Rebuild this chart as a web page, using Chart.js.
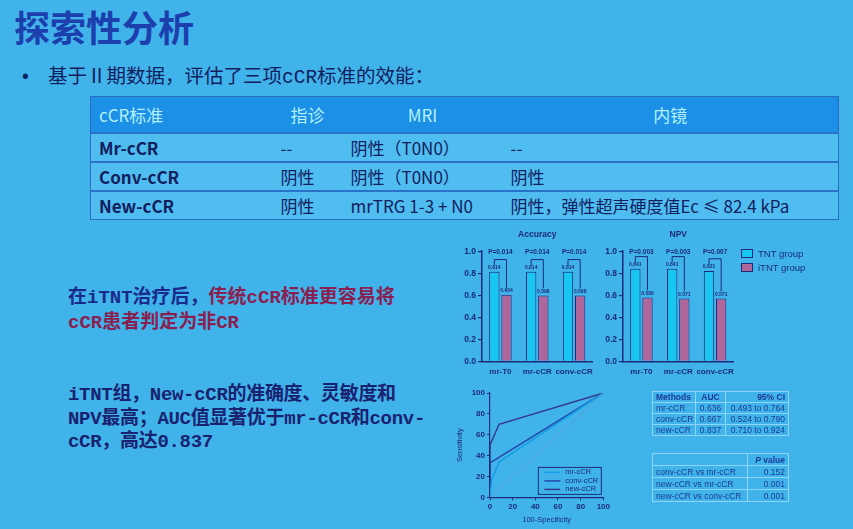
<!DOCTYPE html>
<html lang="zh">
<head>
<meta charset="utf-8">
<script src="https://cdn.jsdelivr.net/npm/chart.js@4.4.1/dist/chart.umd.min.js"></script>
<style>
  html, body { margin: 0; padding: 0; }
  body { width: 853px; height: 529px; overflow: hidden; position: relative;
         background: #40b3ea; font-family: "Noto Sans CJK SC", sans-serif; color: #13205e; }
  .abs { position: absolute; }
  #title { left: 14px; top: 4px; font-size: 36px; font-weight: bold; color: #1d3fae; line-height: 44px; }
  #bullet { left: 22px; top: 63px; font-size: 19.5px; line-height: 26px; font-family: "Liberation Mono", "Noto Sans CJK SC", monospace; }
  #bullet .dot { display: inline-block; width: 26px; font-family: "Liberation Sans"; }
  #crit { left: 90px; top: 96px; width: 748px; border-collapse: collapse; font-size: 17px; table-layout: fixed;
          border: 1.5px solid #2a6cc0; }
  #crit th { background: #1c8fe6; color: #b4f2ff; font-weight: normal; height: 35px; padding: 0; }
  #crit th.l { text-align: left; padding-left: 8px; }
  #crit td { height: 27px; border-top: 2px solid #2a72c8; background: #4fbdf0; padding: 0 0 0 8px; white-space: nowrap; }
  #crit td.b { font-weight: bold; }
  .note { left: 68px; font-size: 19px; font-weight: bold; font-family: "Liberation Mono", "Noto Sans CJK SC", monospace; }
  #note1 { top: 286px; line-height: 25px; color: #1a2a8a; }
  #note1 .red { color: #8a2050; }
  #note2 { top: 384px; line-height: 23.5px; color: #1a2270; letter-spacing: -0.3px; }
  .box { position: absolute; }
  #legend { left: 741px; top: 247px; font-family: "Liberation Sans", sans-serif; font-size: 9.5px; color: #1b2b78; line-height: 14px; }
  #legend span.sw { display: inline-block; width: 10px; height: 7px; border: 1px solid #1b2b78; margin-right: 5px; vertical-align: -1px; }
  .stat { position: absolute; border-collapse: collapse; font-family: "Liberation Sans", sans-serif; font-size: 8.5px;
          color: #1c3a96; table-layout: fixed; border: 1.2px solid #2c5cb0; }
  .stat th, .stat td { border: 1px solid #8fd6f6; padding: 0 3px; white-space: nowrap; }
  .stat th { font-weight: bold; }
  .stat .l { text-align: left; }
  .stat .c { text-align: center; }
  .stat .r { text-align: right; }
  #auc { left: 652px; top: 391px; width: 136px; }
  #auc th, #auc td { height: 10px; }
  #pval { left: 652px; top: 453px; width: 136px; }
  #pval th, #pval td { height: 11px; }
</style>
</head>
<body>
<div id="title" class="abs">探索性分析</div>
<div id="bullet" class="abs"><span class="dot">•</span>基于Ⅱ期数据，评估了三项cCR标准的效能：</div>

<table id="crit" class="abs">
  <colgroup><col style="width:182px"><col style="width:70px"><col style="width:160px"><col style="width:336px"></colgroup>
  <tr><th class="l">cCR标准</th><th>指诊</th><th>MRI</th><th>内镜</th></tr>
  <tr><td class="b">Mr-cCR</td><td>--</td><td>阴性（T0N0）</td><td>--</td></tr>
  <tr><td class="b">Conv-cCR</td><td>阴性</td><td>阴性（T0N0）</td><td>阴性</td></tr>
  <tr><td class="b">New-cCR</td><td>阴性</td><td>mrTRG 1-3 + N0</td><td>阴性，弹性超声硬度值Ec ≤ 82.4 kPa</td></tr>
</table>

<div id="note1" class="abs note">在iTNT治疗后，<span class="red">传统cCR标准更容易将<br>cCR患者判定为非CR</span></div>
<div id="note2" class="abs note">iTNT组，New-cCR的准确度、灵敏度和<br>NPV最高；AUC值显著优于mr-cCR和conv-<br>cCR，高达0.837</div>

<div class="box" style="left:450px;top:225px;"><canvas id="accChart" width="150" height="160"></canvas></div>
<div class="box" style="left:591px;top:225px;"><canvas id="npvChart" width="150" height="160"></canvas></div>
<div id="legend" class="abs"></div>
<div class="box" style="left:440px;top:385px;"><canvas id="rocChart" width="172" height="140"></canvas></div>

<table id="auc" class="stat">
  <colgroup><col style="width:43px"><col style="width:30px"><col style="width:63px"></colgroup>
  <tr><th class="l">Methods</th><th class="c">AUC</th><th class="r">95% CI</th></tr>
  <tr><td class="l">mr-cCR</td><td class="c">0.636</td><td class="r">0.493 to 0.764</td></tr>
  <tr><td class="l">conv-cCR</td><td class="c">0.667</td><td class="r">0.524 to 0.790</td></tr>
  <tr><td class="l">new-cCR</td><td class="c">0.837</td><td class="r">0.710 to 0.924</td></tr>
</table>

<table id="pval" class="stat">
  <colgroup><col style="width:95px"><col style="width:41px"></colgroup>
  <tr><th></th><th class="r"><i>P</i> value</th></tr>
  <tr><td class="l">conv-cCR vs mr-cCR</td><td class="r">0.152</td></tr>
  <tr><td class="l">new-cCR vs mr-cCR</td><td class="r">0.001</td></tr>
  <tr><td class="l">new-cCR vs conv-cCR</td><td class="r">0.001</td></tr>
</table>

<script>
// bar charts
const groups = ['TNT group', 'iTNT group'];
const groupColors = ['#19c6f2', '#b1669b'];
const methods = ['mr-T0', 'mr-cCR', 'conv-cCR'];
const accuracyTnt = [0.814, 0.814, 0.814];
const accuracyItnt = [0.604, 0.598, 0.598];
const accuracyP = ['P=0.014', 'P=0.014', 'P=0.014'];
const npvTnt = [0.841, 0.841, 0.821];
const npvItnt = [0.580, 0.571, 0.571];
const npvP = ['P=0.003', 'P=0.003', 'P=0.007'];

// ROC curves (100-Specificity, Sensitivity)
const rocNames = ['mr-cCR', 'conv-cCR', 'new-cCR'];
const mrRocX = [0, 1.5, 8, 100];
const mrRocY = [0, 17, 34, 100];
const convRocX = [0, 0, 100];
const convRocY = [0, 33, 100];
const newRocX = [0, 0, 8, 100];
const newRocY = [0, 50, 70, 100];
const refX = [0, 100];
const refY = [0, 100];

const ink = '#1b2b78';
const font = 'Liberation Sans';
Chart.defaults.font.family = font;
Chart.defaults.color = ink;

// shared legend for the two bar charts
document.getElementById('legend').innerHTML = groups
    .map((g, i) => `<div><span class="sw" style="background:${groupColors[i]}"></span>${g}</div>`)
    .join('');

function barChart(id, title, tnt, itnt, pLabels) {
    const brackets = {
        id: 'brackets',
        afterDatasetsDraw(chart) {
            const { ctx, scales: { y } } = chart;
            const a = chart.getDatasetMeta(0).data;
            const b = chart.getDatasetMeta(1).data;
            ctx.save();
            ctx.strokeStyle = ink;
            ctx.fillStyle = ink;
            ctx.lineWidth = 1;
            ctx.textAlign = 'center';
            a.forEach((bar, i) => {
                const top = y.getPixelForValue(tnt[i] + 0.11);
                ctx.beginPath();
                ctx.moveTo(bar.x, y.getPixelForValue(tnt[i] + 0.06));
                ctx.lineTo(bar.x, top);
                ctx.lineTo(b[i].x, top);
                ctx.lineTo(b[i].x, y.getPixelForValue(itnt[i] + 0.065));
                ctx.stroke();
                ctx.font = `bold 5px ${font}`;
                ctx.textBaseline = 'bottom';
                ctx.fillText(tnt[i].toFixed(3), bar.x, bar.y - 1.5);
                ctx.fillText(itnt[i].toFixed(3), b[i].x, b[i].y - 1.5);
                ctx.font = `bold 6.5px ${font}`;
                ctx.textBaseline = 'middle';
                ctx.fillText(pLabels[i], (bar.x + b[i].x) / 2, y.getPixelForValue(0.99));
            });
            ctx.restore();
        }
    };
    return new Chart(document.getElementById(id), {
        type: 'bar',
        data: {
            labels: methods,
            datasets: groups.map((g, k) => ({
                label: g, data: k === 0 ? tnt : itnt,
                backgroundColor: groupColors[k], borderColor: ink, borderWidth: 1
            }))
        },
        options: {
            responsive: false,
            animation: false,
            categoryPercentage: 0.66,
            barPercentage: 0.85,
            layout: { padding: { left: 4, right: 3, bottom: 2 } },
            plugins: {
                title: { display: true, text: title, fullSize: false, color: ink,
                         font: { size: 8.5, weight: 'bold' }, padding: { top: 5, bottom: 11 } },
                legend: { display: false },
                tooltip: { enabled: false }
            },
            scales: {
                x: {
                    grid: { display: false, drawTicks: false },
                    border: { color: ink, width: 1.5 },
                    ticks: { color: ink, font: { size: 8, weight: 'bold' }, padding: 6, maxRotation: 0, autoSkip: false }
                },
                y: {
                    min: 0, max: 1,
                    ticks: { stepSize: 0.2, callback: v => v.toFixed(1), color: ink, font: { size: 8.5, weight: 'bold' }, padding: 2 },
                    grid: { drawOnChartArea: false, tickLength: 4, color: ink, lineWidth: 1.2 },
                    border: { color: ink, width: 1.5 },
                    afterFit: s => { s.width = 28; }
                }
            }
        },
        plugins: [brackets]
    });
}

barChart('accChart', 'Accuracy', accuracyTnt, accuracyItnt, accuracyP);
barChart('npvChart', 'NPV', npvTnt, npvItnt, npvP);

const pts = (xs, ys) => xs.map((x, i) => ({ x, y: ys[i] }));

const rocLegend = {
    id: 'rocLegend',
    afterDatasetsDraw(chart) {
        const { ctx, chartArea } = chart;
        const w = 63, h = 27;
        const x0 = chartArea.right - w - 2, y0 = chartArea.bottom - h - 3;
        ctx.save();
        ctx.strokeStyle = ink;
        ctx.lineWidth = 1;
        ctx.strokeRect(x0, y0, w, h);
        ctx.font = `7.5px ${font}`;
        ctx.textBaseline = 'middle';
        ctx.fillStyle = ink;
        chart.data.datasets.filter(d => rocNames.includes(d.label)).forEach((d, i) => {
            const yy = y0 + 5 + i * 8.5;
            ctx.strokeStyle = d.borderColor;
            ctx.lineWidth = 1.5;
            ctx.beginPath();
            ctx.moveTo(x0 + 6, yy);
            ctx.lineTo(x0 + 22, yy);
            ctx.stroke();
            ctx.fillText(d.label, x0 + 27, yy);
        });
        ctx.restore();
    }
};

new Chart(document.getElementById('rocChart'), {
    type: 'scatter',
    data: {
        datasets: [
            { label: 'reference', data: pts(refX, refY), borderColor: '#6a9ad8', borderWidth: 0.8 },
            { label: rocNames[0], data: pts(mrRocX, mrRocY), borderColor: '#169fe2', borderWidth: 1.6 },
            { label: rocNames[1], data: pts(convRocX, convRocY), borderColor: '#2548aa', borderWidth: 1.5 },
            { label: rocNames[2], data: pts(newRocX, newRocY), borderColor: '#363a8c', borderWidth: 1.5 }
        ].map(d => Object.assign(d, { showLine: true, pointRadius: 0, fill: false, tension: 0 }))
    },
    options: {
        responsive: false,
        animation: false,
        layout: { padding: { left: 15, right: 6, top: 8, bottom: 1 } },
        plugins: { legend: { display: false }, tooltip: { enabled: false } },
        scales: {
            x: {
                type: 'linear', min: 0, max: 100,
                ticks: { stepSize: 20, color: ink, font: { size: 8, weight: 'bold' }, padding: 2 },
                grid: { drawOnChartArea: false, tickLength: 3, color: ink },
                border: { color: ink, width: 1.2 },
                title: { display: true, text: '100-Specificity', color: ink, font: { size: 7.5 }, padding: { top: 1, bottom: 0 } }
            },
            y: {
                min: 0, max: 100,
                ticks: { stepSize: 20, color: ink, font: { size: 8, weight: 'bold' }, padding: 2 },
                grid: { drawOnChartArea: false, tickLength: 3, color: ink },
                border: { color: ink, width: 1.2 },
                title: { display: true, text: 'Sensitivity', color: ink, font: { size: 7.5 }, padding: { top: 0, bottom: 2 } },
                afterFit: s => { s.width = 35; }
            }
        }
    },
    plugins: [rocLegend]
});
</script>
</body>
</html>
